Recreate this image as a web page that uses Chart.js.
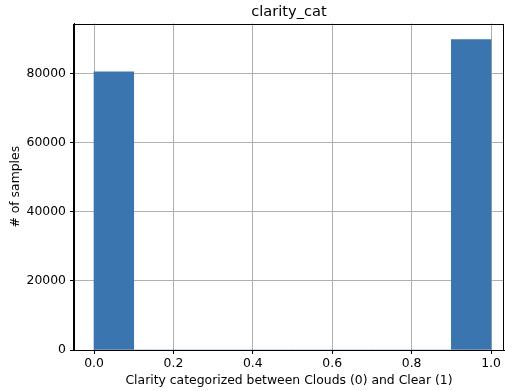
<!DOCTYPE html>
<html>
<head>
<meta charset="utf-8">
<script src="https://cdn.jsdelivr.net/npm/chart.js@4/dist/chart.umd.min.js"></script>
<style>
  html, body { margin: 0; padding: 0; background: #fff; }
  #wrap { width: 505px; height: 391px; }
</style>
</head>
<body>
<div id="wrap"><canvas id="hist-chart"></canvas></div>
<script>
// histogram bins (10 bins between 0 and 1)
const binCenters = [0.05, 0.15, 0.25, 0.35, 0.45, 0.55, 0.65, 0.75, 0.85, 0.95];
const binCounts = [80580, 0, 0, 0, 0, 0, 0, 0, 0, 89890];
const xTicks = [0, 0.2, 0.4, 0.6, 0.8, 1.0];
const yTicks = [0, 20000, 40000, 60000, 80000];

const barColor = '#3a75af';
const gridColor = '#b0b0b0';
const fontFamily = '"DejaVu Sans", sans-serif';

// box around the axes like matplotlib spines
const frame = {
    id: 'frame',
    afterDraw(chart) {
        const {ctx, chartArea: a} = chart;
        ctx.save();
        ctx.strokeStyle = '#000';
        ctx.lineWidth = 1;
        ctx.strokeRect(Math.round(a.left) - 0.5, Math.round(a.top) + 0.5,
            Math.round(a.right - a.left), Math.round(a.bottom - a.top));
        ctx.restore();
    }
};

new Chart(document.querySelector('#hist-chart').getContext('2d'), {
    type: 'bar',
    data: {
        datasets: [{
            label: 'clarity_cat',
            data: binCenters.map((c, i) => ({x: c, y: binCounts[i]})),
            backgroundColor: barColor,
            borderWidth: 0,
            barPercentage: 1,
            categoryPercentage: 1
        }]
    },
    options: {
        responsive: true,
        maintainAspectRatio: false,
        animation: false,
        layout: {padding: {left: 0, right: 1, top: 0, bottom: 0}},
        plugins: {
            legend: {display: false},
            tooltip: {enabled: false},
            title: {
                display: true,
                text: 'clarity_cat',
                fullSize: false,
                color: '#000',
                font: {family: fontFamily, size: 14.6, weight: 'normal'},
                padding: {top: 3, bottom: 3}
            }
        },
        scales: {
            x: {
                type: 'linear',
                min: -0.0504,
                max: 1.0327,
                offset: false,
                z: 1,
                afterFit: s => { s.height = 41; },
                afterBuildTicks: s => { s.ticks = xTicks.map(v => ({value: v})); },
                ticks: {
                    color: '#000',
                    font: {family: fontFamily, size: 12.4},
                    padding: 2,
                    maxRotation: 0,
                    callback: v => v.toFixed(1)
                },
                grid: {
                    offset: false,
                    color: gridColor,
                    tickColor: '#000',
                    tickLength: 4,
                    lineWidth: 1
                },
                border: {color: '#000'},
                title: {
                    display: true,
                    text: 'Clarity categorized between Clouds (0) and Clear (1)',
                    color: '#000',
                    font: {family: fontFamily, size: 12.4},
                    padding: {top: 0, bottom: 3}
                }
            },
            y: {
                min: 0,
                max: 94545,
                z: 1,
                afterFit: s => { s.width = 74; },
                afterBuildTicks: s => { s.ticks = yTicks.map(v => ({value: v})); },
                ticks: {
                    color: '#000',
                    font: {family: fontFamily, size: 12.4},
                    padding: 4,
                    callback: v => String(v)
                },
                grid: {
                    color: gridColor,
                    tickColor: '#000',
                    tickLength: 4,
                    lineWidth: 1
                },
                border: {color: '#000'},
                title: {
                    display: true,
                    text: '# of samples',
                    color: '#000',
                    font: {family: fontFamily, size: 12.4},
                    padding: {top: 8, bottom: 0}
                }
            }
        }
    },
    plugins: [frame]
});
</script>
</body>
</html>
